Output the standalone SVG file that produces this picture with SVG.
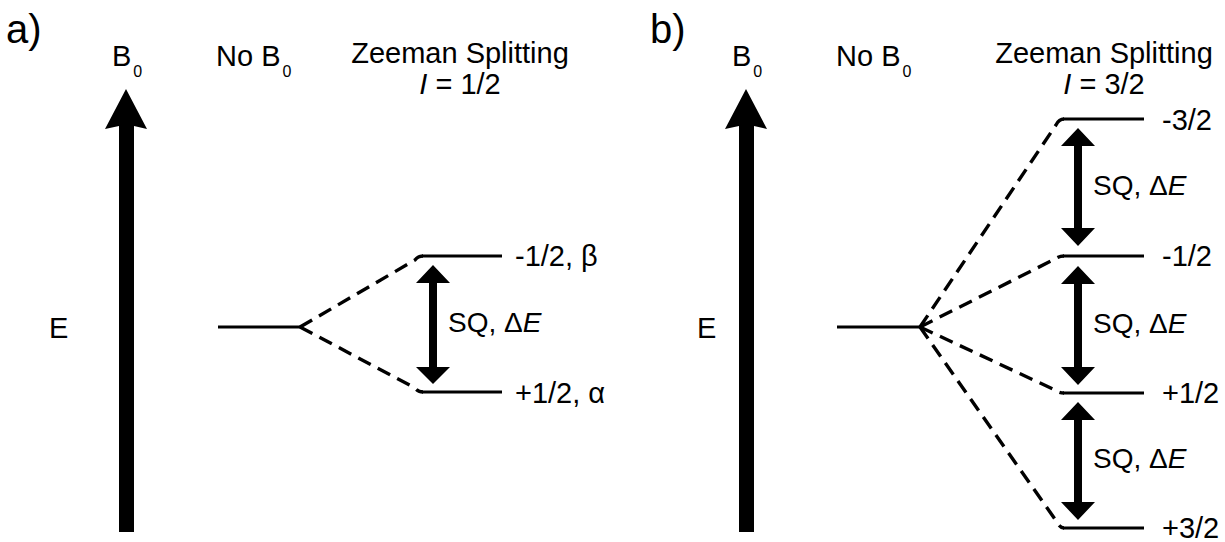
<svg xmlns="http://www.w3.org/2000/svg" width="1225" height="542" viewBox="0 0 1225 542">
<style>
text{font-family:"Liberation Sans",Arial,sans-serif;fill:#000}
.t{font-size:29px}
.big{font-size:40px}
.sq{font-size:28px}
.sub{font-size:16px}
.lvl{stroke:#000;stroke-width:3.2;fill:none}
.dash{stroke:#000;stroke-width:3.4;fill:none;stroke-dasharray:14 8}
.ha{fill:#000}
</style>
<defs>
<g id="bigArrow">
<polygon points="0,-221 -21,-181 -7,-184 -7,222 8,222 8,-184 21,-181" fill="#000"/>
</g>
</defs>

<g id="panel-a">
<text id="label-a" class="big" x="6" y="43">a)</text>
<g id="a-B0-arrow"><use href="#bigArrow" x="126" y="310"/></g>
<text id="a-B0" class="t" x="112" y="66">B<tspan class="sub" dx="2" dy="11">0</tspan></text>
<text id="a-noB0" class="t" x="216" y="66">No B<tspan class="sub" dx="2" dy="11">0</tspan></text>
<text id="a-title" class="t" x="460" y="63" text-anchor="middle">Zeeman Splitting</text>
<text id="a-spin" class="t" x="460" y="94" text-anchor="middle"><tspan font-style="italic">I</tspan> = 1/2</text>
<text id="a-E" class="t" x="49" y="338">E</text>
<g id="a-levels">
<line class="lvl" x1="218" y1="327" x2="300" y2="327"/>
<line class="lvl" x1="422" y1="256" x2="502" y2="256"/>
<line class="lvl" x1="422" y1="392" x2="502" y2="392"/>
</g>
<text id="a-beta" class="t" x="515" y="266">-1/2, β</text>
<text id="a-alpha" class="t" x="515" y="403">+1/2, α</text>
<g id="a-transition">
<polygon class="ha" points="433,265 450,283 437,283 437,367 450,367 433,384 416,367 429,367 429,283 416,283"/>
</g>
<text id="a-sq" class="sq" x="448" y="332">SQ, Δ<tspan font-style="italic">E</tspan></text>
</g>

<g id="panel-b">
<text id="label-b" class="big" x="650" y="43">b)</text>
<g id="b-B0-arrow"><use href="#bigArrow" x="746" y="310"/></g>
<text id="b-B0" class="t" x="732" y="66">B<tspan class="sub" dx="2" dy="11">0</tspan></text>
<text id="b-noB0" class="t" x="836" y="66">No B<tspan class="sub" dx="2" dy="11">0</tspan></text>
<text id="b-title" class="t" x="1104" y="63" text-anchor="middle">Zeeman Splitting</text>
<text id="b-spin" class="t" x="1104" y="94" text-anchor="middle"><tspan font-style="italic">I</tspan> = 3/2</text>
<text id="b-E" class="t" x="697" y="338">E</text>
<g id="b-levels">
<line class="lvl" x1="837" y1="327" x2="920" y2="327"/>
<line class="lvl" x1="1063" y1="119" x2="1144" y2="119"/>
<line class="lvl" x1="1063" y1="256" x2="1144" y2="256"/>
<line class="lvl" x1="1063" y1="393" x2="1144" y2="393"/>
<line class="lvl" x1="1063" y1="528" x2="1144" y2="528"/>
</g>
<text id="b-m32" class="t" x="1162" y="130">-3/2</text>
<text id="b-m12" class="t" x="1162" y="266">-1/2</text>
<text id="b-p12" class="t" x="1162" y="403">+1/2</text>
<text id="b-p32" class="t" x="1162" y="538">+3/2</text>
<g id="b-transitions">
<polygon class="ha" points="1078,128 1095,146 1082,146 1082,228 1095,228 1078,246 1061,228 1074,228 1074,146 1061,146"/>
<polygon class="ha" points="1078,266 1095,284 1082,284 1082,367 1095,367 1078,385 1061,367 1074,367 1074,284 1061,284"/>
<polygon class="ha" points="1078,402 1095,420 1082,420 1082,502 1095,502 1078,520 1061,502 1074,502 1074,420 1061,420"/>
</g>
<text id="b-sq1" class="sq" x="1093" y="195">SQ, Δ<tspan font-style="italic">E</tspan></text>
<text id="b-sq2" class="sq" x="1093" y="333">SQ, Δ<tspan font-style="italic">E</tspan></text>
<text id="b-sq3" class="sq" x="1093" y="468">SQ, Δ<tspan font-style="italic">E</tspan></text>
</g>

<g id="connectors">
<path class="dash" d="M300,327 L415,260 Q418,256 423,256"/>
<path class="dash" d="M300,327 L415,388 Q418,392 423,392"/>
<path class="dash" d="M920,327 L1056,125 Q1059,119 1064,119"/>
<path class="dash" d="M920,327 L1055,259 Q1059,256 1064,256"/>
<path class="dash" d="M920,327 L1055,390 Q1059,393 1064,393"/>
<path class="dash" d="M920,327 L1057,522 Q1060,528 1064,528"/>
</g>
</svg>
